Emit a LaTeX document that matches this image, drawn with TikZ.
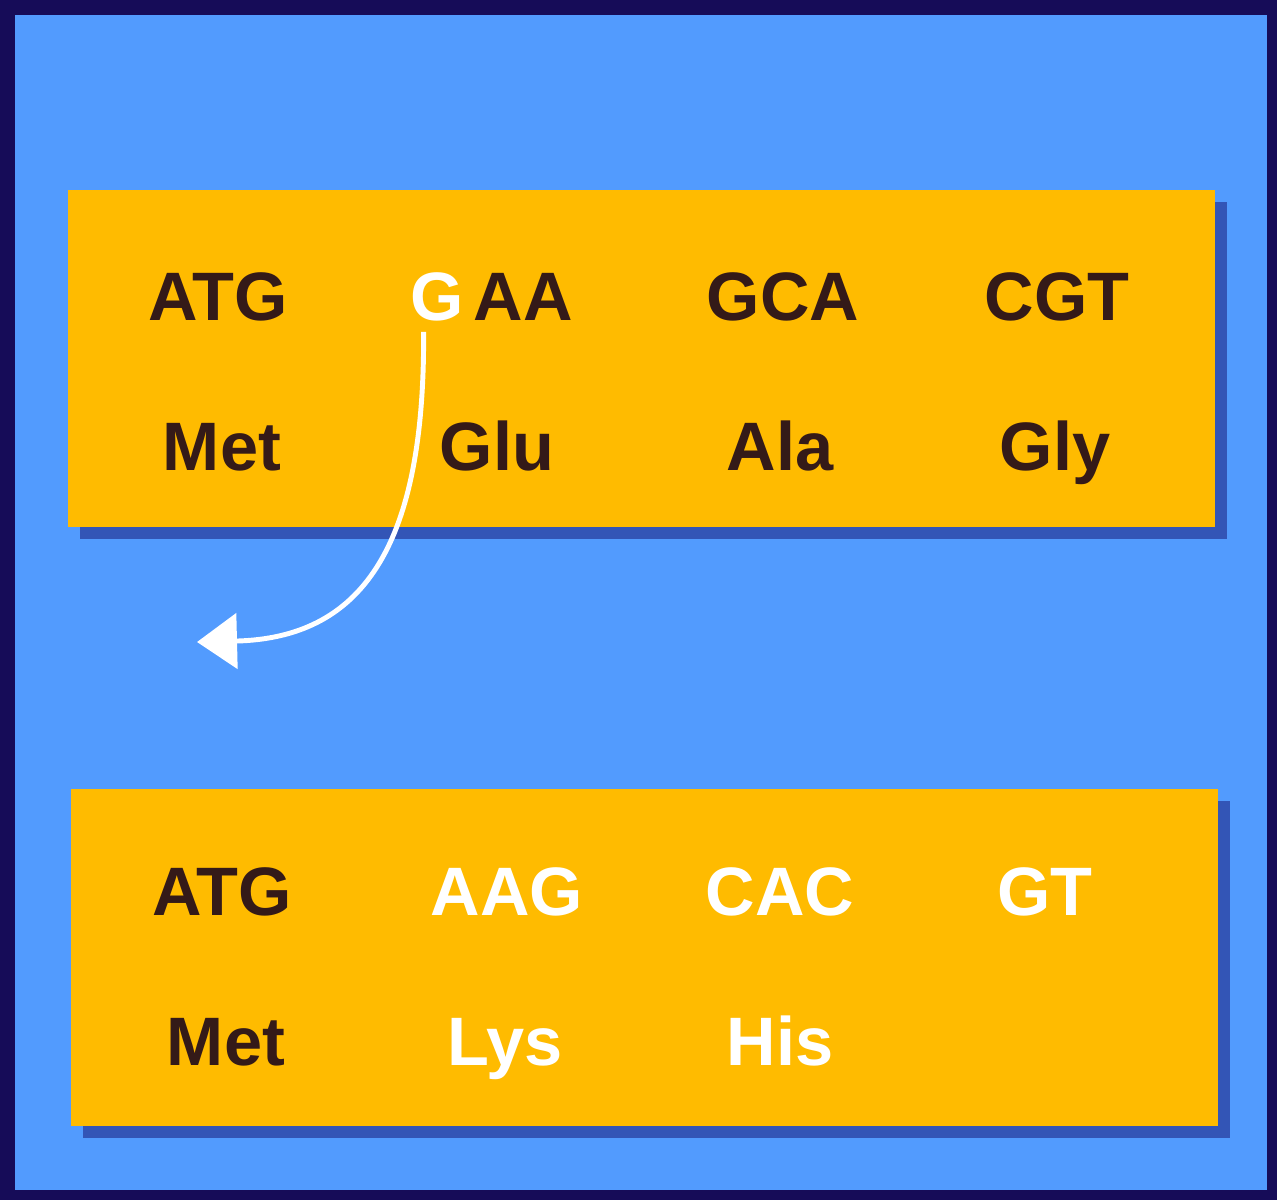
\documentclass[tikz,border=0pt]{standalone}
\usepackage{fontspec}
\setmainfont{Liberation Sans}
\usetikzlibrary{arrows.meta,positioning,shadows}
\definecolor{frame}{RGB}{22,12,88}
\definecolor{sky}{RGB}{82,155,254}
\definecolor{amber}{RGB}{255,187,0}
\definecolor{ink}{RGB}{52,26,24}
\definecolor{shade}{RGB}{48,78,175}
\tikzset{
	strand/.style={rectangle,fill=amber,minimum width=11.47cm,minimum height=3.37cm,
		drop shadow={shadow xshift=0.12cm,shadow yshift=-0.12cm,fill=shade,opacity=0.9}},
	base/.style={anchor=base,inner sep=1pt,text=ink,font=\bfseries\fontsize{19.5}{20}\selectfont},
	mut/.style={base,text=white},
	frameshift/.style={white,line width=1.4pt,-{Triangle[length=4mm,width=5.5mm]}}
}
\begin{document}
\begin{tikzpicture}
	\useasboundingbox (0,0) rectangle (12.77,-12);
	\fill[frame] (0,0) rectangle (12.77,-12);
	\fill[sky] (0.15,-0.15) rectangle (12.67,-11.9);
	% normal sequence
	\node[strand] (top) at (6.415,-3.585) {};
	\node[base] (c1) at (2.18,-3.2) {ATG};
	\node[mut,anchor=base east,inner sep=0pt] (g) at (4.65,-3.2) {G};
	\node[base,anchor=base west,inner sep=0pt] (c2) at (4.73,-3.2) {AA};
	\node[base] (c3) at (7.83,-3.2) {GCA};
	\node[base] (c4) at (10.57,-3.2) {CGT};
	\node[base] (a1) at (2.22,-4.7) {Met};
	\node[base] (a2) at (4.97,-4.7) {Glu};
	\node[base] (a3) at (7.80,-4.7) {Ala};
	\node[base] (a4) at (10.55,-4.7) {Gly};
	% after deletion
	\node[strand] (bot) at (6.44,-9.575) {};
	\node[base] (d1) at (2.22,-9.15) {ATG};
	\node[mut] (d2) at (5.07,-9.15) {AAG};
	\node[mut] (d3) at (7.80,-9.15) {CAC};
	\node[mut] (d4) at (10.45,-9.15) {GT};
	\node[base] (b1) at (2.26,-10.65) {Met};
	\node[mut] (b2) at (5.05,-10.65) {Lys};
	\node[mut] (b3) at (7.80,-10.65) {His};
	\coordinate (gap) at (1.97,-6.42);
	\draw[frameshift] ([xshift=-4pt,yshift=-3pt]g.south) .. controls (4.25,-5.5) and (3.6,-6.38) .. (gap);
\end{tikzpicture}
\end{document}
